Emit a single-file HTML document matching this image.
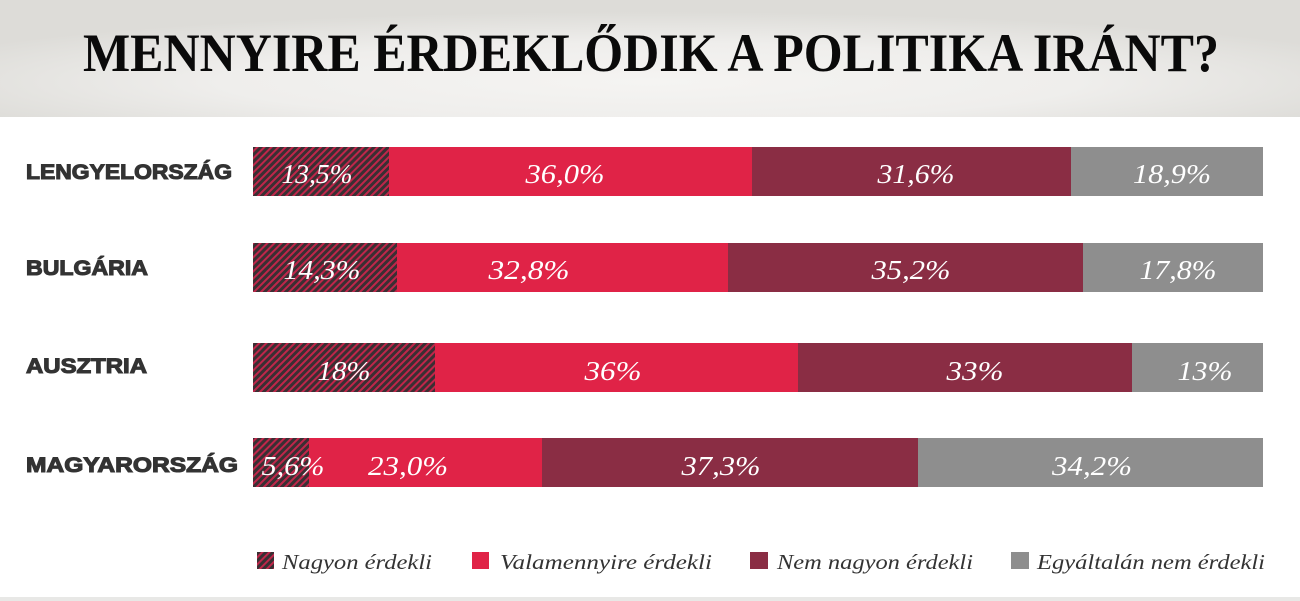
<!DOCTYPE html>
<html>
<head>
<meta charset="utf-8">
<style>
  html,body{margin:0;padding:0;background:#fff;}
  body{width:1300px;height:601px;overflow:hidden;}
  svg{display:block;}
</style>
</head>
<body>
<svg width="1300" height="601" viewBox="0 0 1300 601" xmlns="http://www.w3.org/2000/svg">
  <defs>
    <radialGradient id="hdr" cx="50%" cy="70%" r="60%" fx="50%" fy="70%">
      <stop offset="0%" stop-color="#f5f4f2"/>
      <stop offset="55%" stop-color="#efeeec"/>
      <stop offset="100%" stop-color="#dddcd8"/>
    </radialGradient>
    <pattern id="hatch" width="5" height="5" patternUnits="userSpaceOnUse" patternTransform="rotate(45)">
      <rect width="5" height="5" fill="#3a2f33"/>
      <rect width="2" height="5" fill="#c0264a"/>
    </pattern>
  </defs>

  <!-- header -->
  <rect x="0" y="0" width="1300" height="117" fill="url(#hdr)"/>
  <text x="83" y="71" font-family="Liberation Serif, serif" font-weight="bold" font-size="54" fill="#0a0a0a" textLength="1136" lengthAdjust="spacingAndGlyphs">MENNYIRE ÉRDEKLŐDIK A POLITIKA IRÁNT?</text>

  <!-- country labels -->
  <g font-family="Liberation Sans, Arial, sans-serif" font-weight="bold" font-size="21" fill="#333" stroke="#333" stroke-width="1.1">
    <text x="26" y="179" textLength="206" lengthAdjust="spacingAndGlyphs">LENGYELORSZÁG</text>
    <text x="26" y="275" textLength="122" lengthAdjust="spacingAndGlyphs">BULGÁRIA</text>
    <text x="26" y="373" textLength="121" lengthAdjust="spacingAndGlyphs">AUSZTRIA</text>
    <text x="26" y="472" textLength="212" lengthAdjust="spacingAndGlyphs">MAGYARORSZÁG</text>
  </g>

  <!-- Row 1 -->
  <rect x="253" y="147" width="136" height="49" fill="url(#hatch)"/>
  <rect x="389" y="147" width="363" height="49" fill="#e02347"/>
  <rect x="752" y="147" width="319" height="49" fill="#8a2d44"/>
  <rect x="1071" y="147" width="192" height="49" fill="#8e8e8e"/>

  <!-- Row 2 -->
  <rect x="253" y="243" width="144" height="49" fill="url(#hatch)"/>
  <rect x="397" y="243" width="331" height="49" fill="#e02347"/>
  <rect x="728" y="243" width="355" height="49" fill="#8a2d44"/>
  <rect x="1083" y="243" width="180" height="49" fill="#8e8e8e"/>

  <!-- Row 3 -->
  <rect x="253" y="343" width="182" height="49" fill="url(#hatch)"/>
  <rect x="435" y="343" width="363" height="49" fill="#e02347"/>
  <rect x="798" y="343" width="334" height="49" fill="#8a2d44"/>
  <rect x="1132" y="343" width="131" height="49" fill="#8e8e8e"/>

  <!-- Row 4 -->
  <rect x="253" y="438" width="56" height="49" fill="url(#hatch)"/>
  <rect x="309" y="438" width="233" height="49" fill="#e02347"/>
  <rect x="542" y="438" width="376" height="49" fill="#8a2d44"/>
  <rect x="918" y="438" width="345" height="49" fill="#8e8e8e"/>

  <!-- value labels -->
  <g font-family="Liberation Serif, serif" font-style="italic" font-size="27" fill="#ffffff" text-anchor="middle">
    <text x="317" y="183" textLength="71" lengthAdjust="spacingAndGlyphs">13,5%</text>
    <text x="565" y="183" textLength="79" lengthAdjust="spacingAndGlyphs">36,0%</text>
    <text x="916" y="183" textLength="77" lengthAdjust="spacingAndGlyphs">31,6%</text>
    <text x="1172" y="183" textLength="78" lengthAdjust="spacingAndGlyphs">18,9%</text>

    <text x="322" y="279" textLength="77" lengthAdjust="spacingAndGlyphs">14,3%</text>
    <text x="529" y="279" textLength="81" lengthAdjust="spacingAndGlyphs">32,8%</text>
    <text x="911" y="279" textLength="79" lengthAdjust="spacingAndGlyphs">35,2%</text>
    <text x="1178" y="279" textLength="77" lengthAdjust="spacingAndGlyphs">17,8%</text>

    <text x="344" y="380" textLength="53" lengthAdjust="spacingAndGlyphs">18%</text>
    <text x="613" y="380" textLength="57" lengthAdjust="spacingAndGlyphs">36%</text>
    <text x="975" y="380" textLength="57" lengthAdjust="spacingAndGlyphs">33%</text>
    <text x="1205" y="380" textLength="55" lengthAdjust="spacingAndGlyphs">13%</text>

    <text x="293" y="475" textLength="63" lengthAdjust="spacingAndGlyphs">5,6%</text>
    <text x="408" y="475" textLength="80" lengthAdjust="spacingAndGlyphs">23,0%</text>
    <text x="721" y="475" textLength="79" lengthAdjust="spacingAndGlyphs">37,3%</text>
    <text x="1092" y="475" textLength="80" lengthAdjust="spacingAndGlyphs">34,2%</text>
  </g>

  <!-- legend -->
  <rect x="257" y="552" width="17" height="17" fill="url(#hatch)"/>
  <rect x="472" y="552" width="17" height="17" fill="#e02347"/>
  <rect x="750" y="552" width="18" height="17" fill="#8a2d44"/>
  <rect x="1011" y="552" width="18" height="17" fill="#8e8e8e"/>
  <g font-family="Liberation Serif, serif" font-style="italic" font-size="21" fill="#333">
    <text x="282" y="569" textLength="150" lengthAdjust="spacingAndGlyphs">Nagyon érdekli</text>
    <text x="500" y="569" textLength="212" lengthAdjust="spacingAndGlyphs">Valamennyire érdekli</text>
    <text x="777" y="569" textLength="196" lengthAdjust="spacingAndGlyphs">Nem nagyon érdekli</text>
    <text x="1037" y="569" textLength="228" lengthAdjust="spacingAndGlyphs">Egyáltalán nem érdekli</text>
  </g>

  <!-- bottom strip -->
  <rect x="0" y="597" width="1300" height="4" fill="#e8e8e6"/>
</svg>
</body>
</html>
